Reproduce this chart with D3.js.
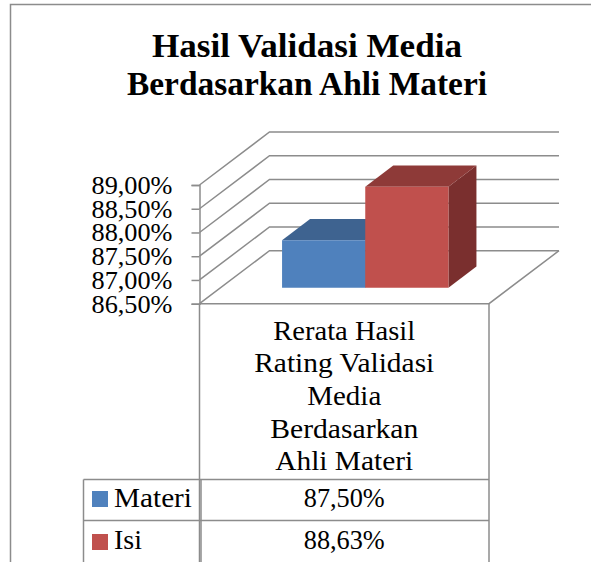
<!DOCTYPE html>
<html>
<head>
<meta charset="utf-8">
<script src="https://cdn.jsdelivr.net/npm/d3@7"></script>
<style>
  html, body { margin: 0; padding: 0; background: #fff; }
  svg { display: block; }
  text { font-family: "Liberation Serif", serif; fill: #000; }
</style>
</head>
<body>
<div id="wrapper"></div>
<script>
const titleLines = ["Hasil Validasi Media", "Berdasarkan Ahli Materi"];
const categoryLines = ["Rerata Hasil", "Rating Validasi", "Media", "Berdasarkan", "Ahli Materi"];
const seriesNames = ["Materi", "Isi"];
const seriesValues = [87.5, 88.63];
const valueLabels = ["87,50%", "88,63%"];
const yTicks = [86.5, 87, 87.5, 88, 88.5, 89];

const seriesColors = {
  Materi: { front: "#4f81bd", top: "#3e6390", side: "#335277" },
  Isi: { front: "#c0504d", top: "#8e3a38", side: "#7a2f2e" },
};
const lineColor = "#8c8c8c";

// 1. Dimensions
const width = 591;
const height = 562;
const plot = { left: 199.5, right: 489, top: 185, bottom: 303.7 };
const depth = { dx: 70, dy: -53 };

const svg = d3
  .select("#wrapper")
  .append("svg")
  .attr("width", width)
  .attr("height", height);

// 2. Scales
const yScale = d3.scaleLinear().domain([86.5, 89]).range([plot.bottom, plot.top]);
const xScale = d3
  .scaleBand()
  .domain(seriesNames)
  .range([plot.left, plot.right])
  .paddingOuter(0.74)
  .paddingInner(0);
const depthScale = d3.scaleLinear().domain([0, 1]).range([0, 1]);

// point on the 3d box: x and y on the front plane, pushed back by d (0-1)
const project = (x, y, d) => [
  x + depth.dx * depthScale(d),
  y + depth.dy * depthScale(d),
];
const line = d3.line();

// 3. Chart border
svg
  .append("path")
  .attr("d", `M10.5,${height}V4.5H${width}`)
  .attr("fill", "none")
  .attr("stroke", lineColor)
  .attr("stroke-width", 1.5);

// 4. Walls and floor
const grid = svg.append("g").attr("fill", "none").attr("stroke", lineColor).attr("stroke-width", 1.5);
yTicks.forEach((t) => {
  grid
    .append("path")
    .attr(
      "d",
      line([
        [plot.left, yScale(t)],
        project(plot.left, yScale(t), 1),
        project(plot.right, yScale(t), 1),
      ])
    );
});
grid
  .append("path")
  .attr(
    "d",
    line([
      project(plot.right, yScale(86.5), 1),
      [plot.right, yScale(86.5)],
      [plot.left, yScale(86.5)],
    ])
  );

// 5. Bars
const barNear = 0.3;
const barFar = 0.7;
seriesNames.forEach((name, i) => {
  const x0 = xScale(name);
  const x1 = x0 + xScale.bandwidth();
  const y0 = yScale(86.5);
  const y1 = yScale(seriesValues[i]);
  const c = seriesColors[name];
  const bar = svg.append("g");
  bar
    .append("path")
    .attr("fill", c.side)
    .attr(
      "d",
      line([
        project(x1, y0, barNear),
        project(x1, y0, barFar),
        project(x1, y1, barFar),
        project(x1, y1, barNear),
      ]) + "Z"
    );
  bar
    .append("path")
    .attr("fill", c.top)
    .attr(
      "d",
      line([
        project(x0, y1, barNear),
        project(x0, y1, barFar),
        project(x1, y1, barFar),
        project(x1, y1, barNear),
      ]) + "Z"
    );
  bar
    .append("path")
    .attr("fill", c.front)
    .attr(
      "d",
      line([
        project(x0, y0, barNear),
        project(x0, y1, barNear),
        project(x1, y1, barNear),
        project(x1, y0, barNear),
      ]) + "Z"
    );
});

// 6. Y axis
const percent = d3.formatLocale({
  decimal: ",",
  thousands: ".",
  grouping: [3],
  currency: ["", ""],
}).format(".2f");

const yAxisGenerator = d3
  .axisLeft(yScale)
  .tickValues(yTicks)
  .tickFormat((d) => percent(d) + "%")
  .tickSize(8)
  .tickPadding(19);

const yAxis = svg
  .append("g")
  .attr("transform", `translate(${plot.left},0)`)
  .call(yAxisGenerator);
yAxis.select(".domain").attr("stroke", lineColor).attr("stroke-width", 1.5);
yAxis.selectAll(".tick line").attr("stroke", lineColor).attr("stroke-width", 1.5);
yAxis
  .selectAll(".tick text")
  .style("font-family", '"Liberation Serif", serif')
  .style("font-size", "26px")
  .attr("fill", "#000")
  .attr("textLength", 81)
  .attr("lengthAdjust", "spacingAndGlyphs");

// 7. Data table under the plot
const table = svg.append("g").attr("fill", "none").attr("stroke", lineColor).attr("stroke-width", 1.5);
const rowTop = 479.5;
const rowMid = 520.5;
const tableLeft = 83.5;
table.append("path").attr("d", `M${plot.left},${plot.bottom}V${height}`);
table.append("path").attr("d", `M${plot.left + 1.5},${rowTop}V${height}`);
table.append("path").attr("d", `M${plot.right},${plot.bottom}V${height}`);
table.append("path").attr("d", `M${tableLeft},${rowTop}V${height}`);
table.append("path").attr("d", `M${tableLeft},${rowTop}H${plot.right}`);
table.append("path").attr("d", `M${tableLeft},${rowMid}H${plot.right}`);

const centerX = (plot.left + plot.right) / 2;
const categoryWidths = [142, 180, 74, 148, 138];
const categoryBase = [340, 372, 405, 438, 470];
svg
  .append("g")
  .selectAll("text")
  .data(categoryLines)
  .join("text")
  .attr("x", centerX)
  .attr("y", (d, i) => categoryBase[i])
  .attr("text-anchor", "middle")
  .attr("font-size", 27)
  .attr("textLength", (d, i) => categoryWidths[i])
  .attr("lengthAdjust", "spacingAndGlyphs")
  .text((d) => d);

const rowBase = [507, 548.5];
const swatchTop = [491, 534];
const nameWidths = [78, 28];
seriesNames.forEach((name, i) => {
  svg
    .append("rect")
    .attr("x", 92)
    .attr("y", swatchTop[i])
    .attr("width", 16)
    .attr("height", 16)
    .attr("fill", seriesColors[name].front);
  svg
    .append("text")
    .attr("x", 114)
    .attr("y", rowBase[i])
    .attr("font-size", 27)
    .attr("textLength", nameWidths[i])
    .attr("lengthAdjust", "spacingAndGlyphs")
    .text(name);
  svg
    .append("text")
    .attr("x", centerX)
    .attr("y", rowBase[i])
    .attr("text-anchor", "middle")
    .attr("font-size", 27)
    .attr("textLength", 81)
    .attr("lengthAdjust", "spacingAndGlyphs")
    .text(valueLabels[i]);
});

// 8. Title
const titleWidths = [310, 360];
const titleBase = [57, 95];
svg
  .append("g")
  .selectAll("text")
  .data(titleLines)
  .join("text")
  .attr("x", 307)
  .attr("y", (d, i) => titleBase[i])
  .attr("text-anchor", "middle")
  .attr("font-size", 33)
  .attr("font-weight", "bold")
  .attr("textLength", (d, i) => titleWidths[i])
  .attr("lengthAdjust", "spacingAndGlyphs")
  .text((d) => d);
</script>
</body>
</html>
